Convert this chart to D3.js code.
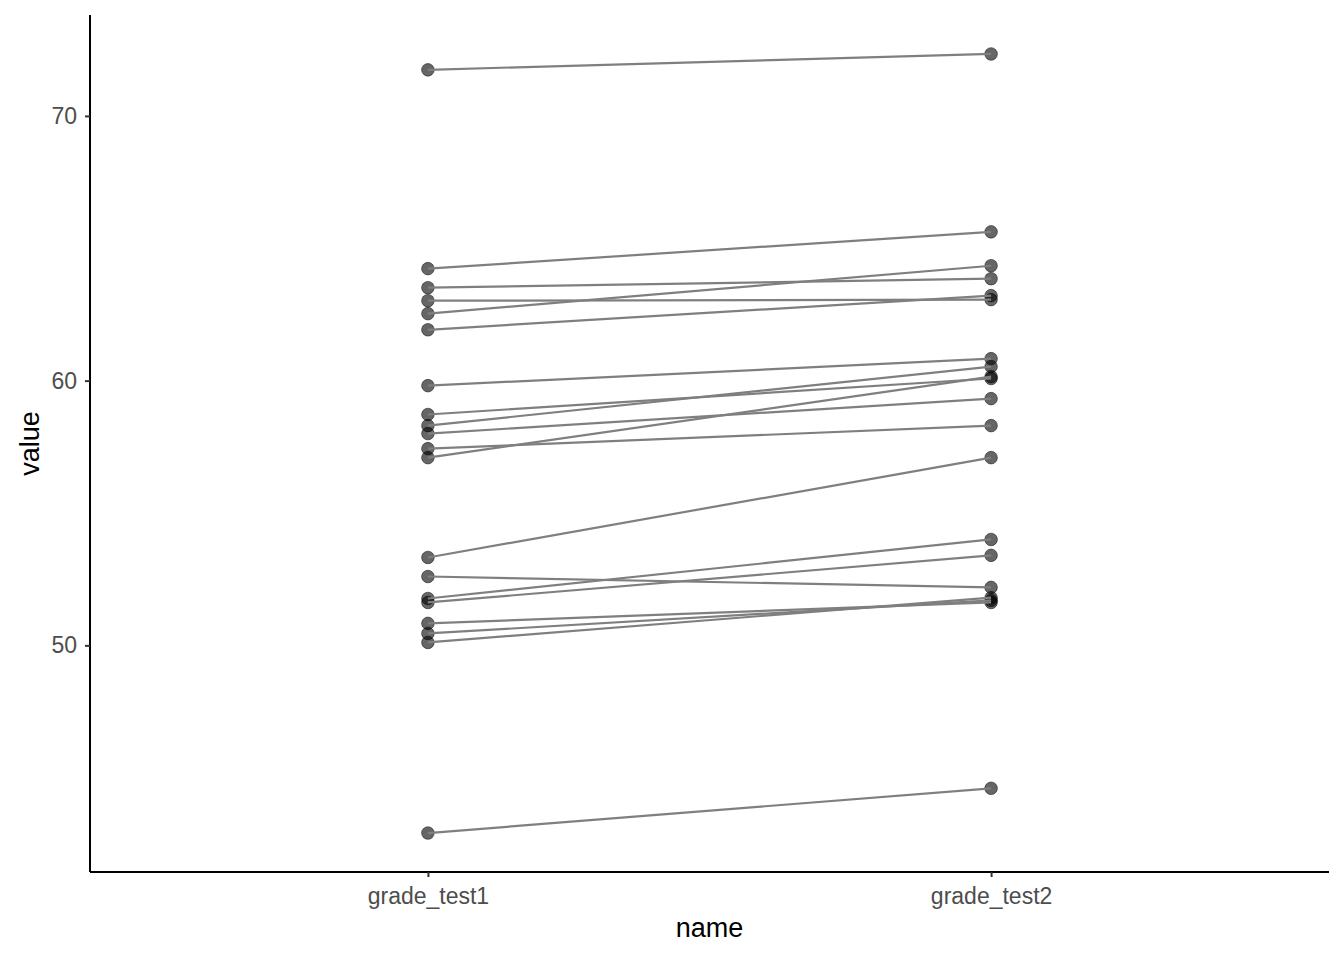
<!DOCTYPE html>
<html>
<head>
<meta charset="utf-8">
<script src="https://cdn.jsdelivr.net/npm/d3@7"></script>
<style>
  body { margin: 0; background: #fff; }
  svg { display: block; font-family: "Liberation Sans", Arial, Helvetica, sans-serif; }
</style>
</head>
<body>
<svg width="1344" height="960"></svg>
<script>
// categories on the x axis
var names = ["grade_test1", "grade_test2"];
// paired values, one entry per student
var test1 = [71.74, 64.23, 63.51, 63.02, 62.53, 61.92, 59.81, 58.72, 58.30, 58.00,
             57.43, 57.09, 53.32, 52.60, 51.77, 51.62, 50.83, 50.45, 50.11, 42.91];
var test2 = [72.34, 65.62, 63.85, 63.06, 64.34, 63.21, 60.83, 60.08, 60.53, 59.32,
             58.30, 60.15, 57.09, 52.19, 54.00, 53.40, 51.62, 51.70, 51.80, 44.60];
var yTicks = [50, 60, 70];

var svg = d3.select("svg");
var margin = {left: 90, right: 15, top: 15, bottom: 88};
var width = 1344, height = 960;

var pairs = test1.map(function(v, i) {
    return [{name: names[0], value: v}, {name: names[1], value: test2[i]}];
});
var allValues = test1.concat(test2);
var lo = d3.min(allValues), hi = d3.max(allValues);
var pad = (hi - lo) * 0.05;

// ggplot-style discrete expansion: 0.6 units each side
var unit = (width - margin.right - margin.left) / (names.length - 1 + 1.2);
var x = d3.scalePoint()
    .domain(names)
    .range([margin.left + 0.6 * unit, width - margin.right - 0.6 * unit])
    .padding(0);

var y = d3.scaleLinear()
    .domain([lo - pad, hi + pad])
    .range([height - margin.bottom, margin.top]);

// points
var pts = svg.append("g");
pairs.forEach(function(p) {
    pts.selectAll(null)
        .data(p)
        .enter()
        .append("circle")
        .attr("cx", function(d) { return x(d.name); })
        .attr("cy", function(d) { return y(d.value); })
        .attr("r", 6.3)
        .attr("fill", "#000")
        .attr("fill-opacity", 0.6)
        .attr("stroke", "#000")
        .attr("stroke-opacity", 0.6)
        .attr("stroke-width", 0.8);
});

// lines
var line = d3.line()
    .x(function(d) { return x(d.name); })
    .y(function(d) { return y(d.value); });
svg.append("g")
    .selectAll("path")
    .data(pairs)
    .enter()
    .append("path")
    .attr("d", line)
    .attr("fill", "none")
    .attr("stroke", "#7f7f7f")
    .attr("stroke-width", 2.2);

// axes
var yAxis = svg.append("g")
    .attr("transform", "translate(" + margin.left + ",0)")
    .call(d3.axisLeft(y).tickValues(yTicks).tickSize(5).tickPadding(8));
var xAxis = svg.append("g")
    .attr("transform", "translate(0," + (height - margin.bottom) + ")")
    .call(d3.axisBottom(x).tickSize(5).tickPadding(11));

[yAxis, xAxis].forEach(function(a) {
    a.select(".domain").attr("stroke", "#000").attr("stroke-width", 2);
    a.selectAll(".tick line").attr("stroke", "#333").attr("stroke-width", 2);
    a.selectAll(".tick text")
        .attr("fill", "#4d4d4d")
        .style("font-size", "23px")
        .style("font-family", "Liberation Sans, Arial, sans-serif");
});
yAxis.select(".domain").attr("d", "M0," + (height - margin.bottom) + "V" + margin.top);
xAxis.select(".domain").attr("d", "M" + margin.left + ",0H" + (width - margin.right));

// axis titles
svg.append("text")
    .attr("x", (margin.left + width - margin.right) / 2)
    .attr("y", 937)
    .attr("text-anchor", "middle")
    .style("font-size", "27px")
    .text("name");
svg.append("text")
    .attr("transform", "translate(39," + ((margin.top + height - margin.bottom) / 2) + ") rotate(-90)")
    .attr("text-anchor", "middle")
    .style("font-size", "27px")
    .text("value");
</script>
</body>
</html>
